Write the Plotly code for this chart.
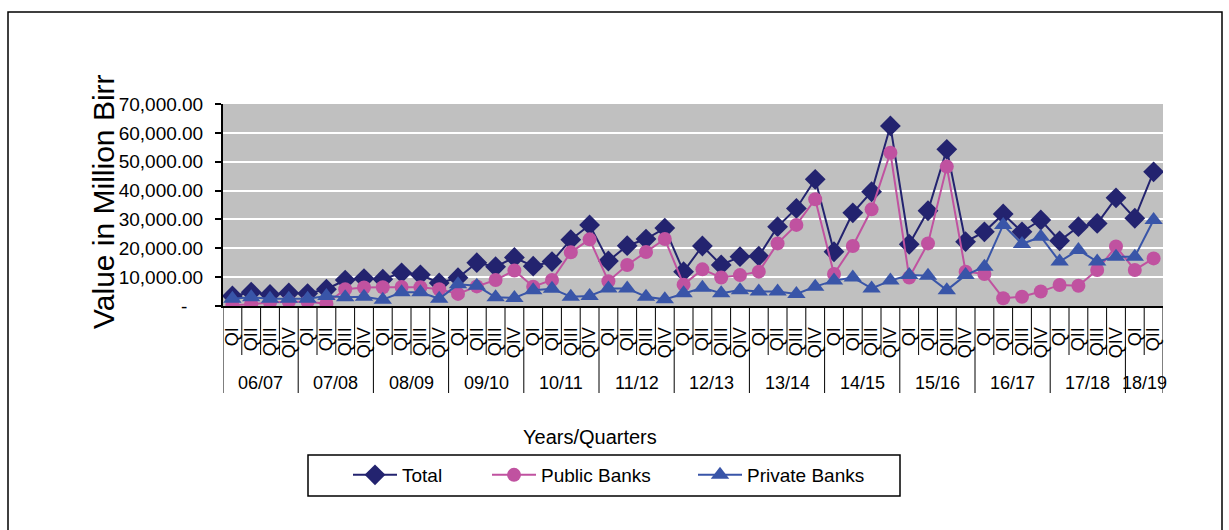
import plotly.graph_objects as go

# Fiscal years and the quarters reported in each
years = ["06/07", "07/08", "08/09", "09/10", "10/11", "11/12",
         "12/13", "13/14", "14/15", "15/16", "16/17", "17/18", "18/19"]
quarters_in_year = [4, 4, 4, 4, 4, 4, 4, 4, 4, 4, 4, 4, 2]
quarter_names = ["QI", "QII", "QIII", "QIV"]

# Values in million Birr, one per quarter
total = [3500, 4800, 4000, 4500, 4300, 5800, 9000, 9500, 9300, 11500,
         10800, 8000, 9800, 15000, 13600, 16800, 13800, 15400, 23000, 28100,
         15600, 20900, 23200, 27000, 11900, 20800, 14200, 17100, 17300, 27500,
         33800, 43900, 18800, 32300, 39600, 62400, 21400, 33000, 54300, 22300,
         25700, 31900, 25700, 29800, 22600, 27500, 28600, 37500, 30400, 46500]
public_banks = [300, 600, 1200, 1500, 1500, 800, 5800, 6400, 6500, 6600,
                6500, 5800, 4200, 6800, 9000, 12300, 6700, 9000, 18600, 23100,
                8600, 14200, 18700, 23200, 7400, 12700, 9900, 10700, 11900, 21700,
                28100, 37000, 11100, 20800, 33500, 53100, 9900, 21700, 48300, 11900,
                11100, 2700, 3200, 5000, 7300, 7000, 12500, 20600, 12500, 16500]
private_banks = [2500, 3000, 2500, 2500, 2500, 3500, 3000, 3200, 2200, 4800,
                 4800, 2500, 7500, 7000, 3000, 2800, 5500, 6000, 3200, 3500,
                 6100, 6100, 3200, 2300, 4400, 6300, 4400, 5500, 5000, 5000,
                 4200, 6700, 8800, 9900, 6100, 8800, 10700, 10500, 5500, 10700,
                 13600, 28100, 21500, 24000, 15400, 19400, 15400, 17100, 17100, 29800]

y_tick_values = [0, 10000, 20000, 30000, 40000, 50000, 60000, 70000]
y_tick_labels = ["-\u00a0\u00a0\u00a0", "10,000.00", "20,000.00", "30,000.00",
                 "40,000.00", "50,000.00", "60,000.00", "70,000.00"]

# Category keys ("year quarter") and the quarter label shown for each
x_keys, x_labels, year_bounds = [], [], []
pos = 0
for yr, nq in zip(years, quarters_in_year):
    year_bounds.append((pos, pos + nq))
    for q in quarter_names[:nq]:
        x_keys.append(f"{yr} {q}")
        x_labels.append(q)
    pos += nq

FONT = "Liberation Sans, Arial, sans-serif"
NAVY = "#23236F"
PINK = "#C052A0"
BLUE = "#3955A8"

fig = go.Figure()
fig.add_trace(go.Scatter(
    x=x_keys, y=total, name="Total", mode="lines+markers",
    line=dict(color=NAVY, width=2),
    marker=dict(symbol="diamond", size=16, color=NAVY),
    legendwidth=80,
))
fig.add_trace(go.Scatter(
    x=x_keys, y=public_banks, name="Public Banks", mode="lines+markers",
    line=dict(color=PINK, width=2),
    marker=dict(symbol="circle", size=14, color=PINK),
    legendwidth=147,
))
fig.add_trace(go.Scatter(
    x=x_keys, y=private_banks, name="Private Banks", mode="lines+markers",
    line=dict(color=BLUE, width=2),
    marker=dict(symbol="triangle-up", size=16, color=BLUE),
))

# Plot area geometry in pixels (used to place decorations in paper units)
L, R, T, B = 223, 66, 104, 224
W, H = 1229, 530
pw, ph = W - L - R, H - T - B

def px_x(x):
    return (x - L) / pw

def px_y(y):
    return (H - B - y) / ph

shapes = []
n = len(x_keys)
year_edges = {b for rng in year_bounds for b in rng}
for k in range(n + 1):
    long_line = k in year_edges
    shapes.append(dict(
        type="line", xref="x", yref="paper",
        x0=k - 0.5, x1=k - 0.5, y0=0,
        y1=px_y(393) if long_line else px_y(355),
        line=dict(color="black", width=1),
    ))
# Outer frame of the chart
shapes.append(dict(
    type="rect", xref="paper", yref="paper",
    x0=px_x(8), x1=px_x(1222), y0=px_y(560), y1=px_y(12),
    line=dict(color="black", width=1.5), fillcolor="rgba(0,0,0,0)", layer="below",
))
# Frame around the legend
shapes.append(dict(
    type="rect", xref="paper", yref="paper",
    x0=px_x(308), x1=px_x(900), y0=px_y(496), y1=px_y(455),
    line=dict(color="black", width=1.5), fillcolor="rgba(0,0,0,0)",
))

annotations = []
for yr, (a, b) in zip(years, year_bounds):
    annotations.append(dict(
        x=(a + b - 1) / 2, y=px_y(383), xref="x", yref="paper",
        text=yr, showarrow=False, font=dict(family=FONT, size=18, color="black"),
        xanchor="center", yanchor="middle",
    ))
annotations.append(dict(
    x=px_x(590), y=px_y(437), xref="paper", yref="paper",
    text="Years/Quarters", showarrow=False,
    font=dict(family=FONT, size=20, color="black"),
    xanchor="center", yanchor="middle",
))
annotations.append(dict(
    x=px_x(103), y=px_y(202), xref="paper", yref="paper",
    text="Value in Million Birr", showarrow=False, textangle=-90,
    font=dict(family=FONT, size=30, color="black"),
    xanchor="center", yanchor="middle",
))

fig.update_layout(
    width=W, height=H,
    margin=dict(l=L, r=R, t=T, b=B, pad=0),
    paper_bgcolor="white",
    plot_bgcolor="#C0C0C0",
    font=dict(family=FONT, color="black"),
    showlegend=True,
    legend=dict(
        orientation="h", x=px_x(348), xanchor="left", y=px_y(456), yanchor="top",
        borderwidth=0, bgcolor="rgba(0,0,0,0)",
        font=dict(family=FONT, size=19, color="black"),
        itemwidth=44,
    ),
    xaxis=dict(
        type="category", categoryorder="array", categoryarray=x_keys,
        tickvals=x_keys, ticktext=x_labels, tickangle=-90,
        tickfont=dict(family=FONT, size=18, color="black"),
        ticks="", showgrid=False, zeroline=False,
        showline=True, linecolor="black", linewidth=2,
        range=[-0.5, n - 0.5], ticklabelstandoff=12,
    ),
    yaxis=dict(
        range=[0, 70000], tickvals=y_tick_values, ticktext=y_tick_labels,
        tickfont=dict(family=FONT, size=19, color="black"),
        showgrid=True, gridcolor="white", gridwidth=2, zeroline=False,
        showline=True, linecolor="black", linewidth=2,
        ticks="outside", ticklen=6, tickwidth=2, tickcolor="black",
        ticklabelstandoff=8,
    ),
    shapes=shapes,
    annotations=annotations,
)

fig.write_html("out.html")
